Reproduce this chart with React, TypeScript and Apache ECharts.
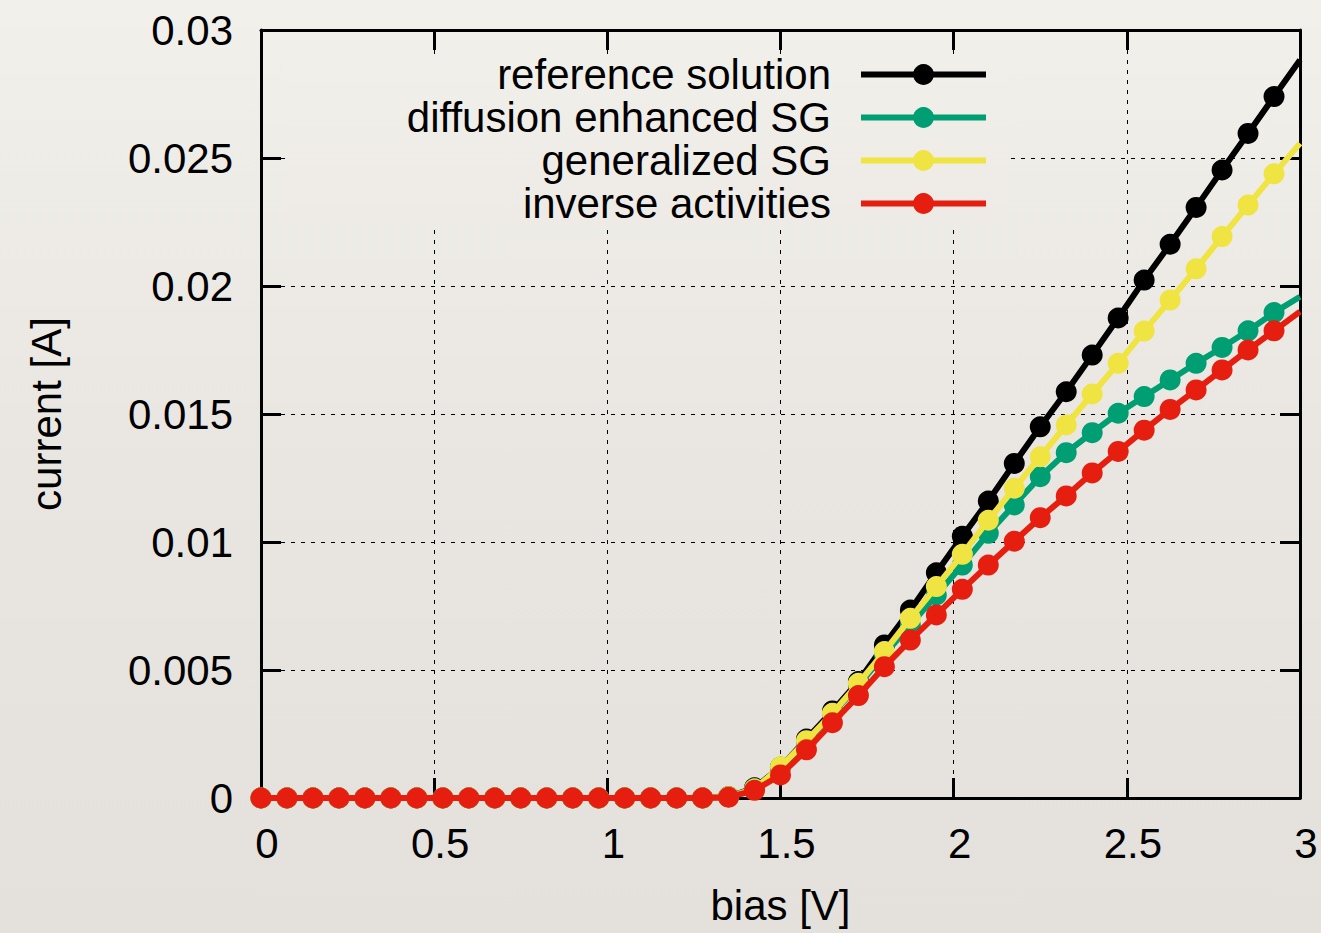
import React, { useEffect, useRef } from "react";
import * as echarts from "echarts";

const biasValues = [
  0, 0.075, 0.15, 0.225, 0.3, 0.375, 0.45, 0.525, 0.6, 0.675, 0.75, 0.825, 0.9, 0.975,
  1.05, 1.125, 1.2, 1.275, 1.35, 1.425, 1.5, 1.575, 1.65, 1.725, 1.8, 1.875, 1.95, 2.025,
  2.1, 2.175, 2.25, 2.325, 2.4, 2.475, 2.55, 2.625, 2.7, 2.775, 2.85, 2.925, 3.0,
];

const referenceSolution = [
  0, 0, 0, 0, 0, 0, 0, 0, 0, 0, 0, 0, 0, 0, 0, 0, 0, 0,
  0.00005, 0.0004, 0.0012, 0.0023, 0.0034, 0.00455, 0.00598, 0.00734, 0.0088, 0.01022,
  0.0116, 0.01307, 0.0145, 0.01587, 0.0173, 0.01875, 0.02023, 0.02163, 0.02307, 0.02453,
  0.02596, 0.0274, 0.02883,
];

const diffusionEnhancedSG = [
  0, 0, 0, 0, 0, 0, 0, 0, 0, 0, 0, 0, 0, 0, 0, 0, 0, 0,
  0.00005, 0.00037, 0.0012, 0.0022, 0.0033, 0.0044, 0.0056, 0.00676, 0.00793, 0.0091,
  0.01034, 0.01145, 0.01255, 0.01349, 0.01427, 0.01503, 0.01568, 0.01633, 0.01698, 0.0176,
  0.01825, 0.01896, 0.01958,
];

const generalizedSG = [
  0, 0, 0, 0, 0, 0, 0, 0, 0, 0, 0, 0, 0, 0, 0, 0, 0, 0,
  0.00005, 0.00035, 0.00122, 0.00224, 0.00331, 0.00448, 0.00572, 0.00702, 0.00826, 0.00952,
  0.01085, 0.0121, 0.01333, 0.01457, 0.01578, 0.01698, 0.01824, 0.01945, 0.02067, 0.02193,
  0.02316, 0.02438, 0.02557,
];

const inverseActivities = [
  0, 0, 0, 0, 0, 0, 0, 0, 0, 0, 0, 0, 0, 0, 0, 0, 0, 0,
  0.00003, 0.0003, 0.0009, 0.00188, 0.00294, 0.004, 0.00513, 0.00617, 0.00715, 0.00815,
  0.0091, 0.01003, 0.01095, 0.0118, 0.0127, 0.01354, 0.01437, 0.01518, 0.01594, 0.01672,
  0.0175, 0.01825, 0.019,
];

const seriesNames = [
  "reference solution",
  "diffusion enhanced SG",
  "generalized SG",
  "inverse activities",
];
const seriesValues = [referenceSolution, diffusionEnhancedSG, generalizedSG, inverseActivities];
const seriesColors = ["#000000", "#009e73", "#f0e442", "#e51e10"];

const FONT = "'Liberation Sans', Arial, Helvetica, sans-serif";

export default function App() {
  const ref = useRef<HTMLDivElement>(null);

  useEffect(() => {
    if (!ref.current) return;
    const chart = echarts.init(ref.current, null, { renderer: "svg" });

    const series = seriesValues.map((vals, s) => ({
      name: seriesNames[s],
      type: "line",
      data: biasValues.map((x, i) =>
        i === biasValues.length - 1
          ? { value: [x, vals[i]], symbol: "none" }
          : [x, vals[i]]
      ),
      xAxisIndex: 0,
      yAxisIndex: 0,
      symbol: "circle",
      symbolSize: 21,
      showAllSymbol: true,
      clip: true,
      z: 2 + s,
      lineStyle: { color: seriesColors[s], width: 6 },
      itemStyle: { color: seriesColors[s] },
      emphasis: { disabled: true },
    }));

    const tickStyle = { show: true, inside: true, length: 20, lineStyle: { color: "#000", width: 3 } };
    const axisLineStyle = { show: true, onZero: false, lineStyle: { color: "#000", width: 3 } };
    const labelStyle = { color: "#000", fontSize: 42, fontFamily: FONT };

    chart.setOption({
      animation: false,
      backgroundColor: "transparent",
      grid: { left: 261, top: 30, right: 21, bottom: 135, containLabel: false },
      xAxis: [
        {
          type: "value",
          min: 0,
          max: 3,
          interval: 0.5,
          position: "bottom",
          name: "bias [V]",
          nameLocation: "middle",
          nameGap: 86,
          nameTextStyle: labelStyle,
          axisLine: axisLineStyle,
          axisTick: tickStyle,
          axisLabel: { ...labelStyle, margin: 24, padding: [0, 0, 0, 12] },
          splitLine: { show: true, lineStyle: { color: "#000", width: 1, type: [4, 6] } },
        },
        {
          type: "value",
          min: 0,
          max: 3,
          interval: 0.5,
          position: "top",
          axisLine: axisLineStyle,
          axisTick: tickStyle,
          axisLabel: { show: false },
          splitLine: { show: false },
        },
      ],
      yAxis: [
        {
          type: "value",
          min: 0,
          max: 0.03,
          interval: 0.005,
          position: "left",
          name: "current [A]",
          nameLocation: "middle",
          nameGap: 194,
          nameTextStyle: labelStyle,
          axisLine: axisLineStyle,
          axisTick: tickStyle,
          axisLabel: { ...labelStyle, margin: 28 },
          splitLine: { show: true, lineStyle: { color: "#000", width: 1, type: [4, 6] } },
        },
        {
          type: "value",
          min: 0,
          max: 0.03,
          interval: 0.005,
          position: "right",
          axisLine: axisLineStyle,
          axisTick: tickStyle,
          axisLabel: { show: false },
          splitLine: { show: false },
        },
      ],
      legend: {
        orient: "vertical",
        align: "right",
        right: 332,
        top: 53,
        padding: 0,
        itemWidth: 125,
        itemHeight: 26,
        itemGap: 0,
        selectedMode: false,
        data: seriesNames,
        lineStyle: { width: 6 },
        textStyle: { ...labelStyle, lineHeight: 43, padding: [0, 25, 0, 0] },
      },
      graphic: [
        {
          type: "rect",
          z: 1,
          silent: true,
          shape: { x: 285, y: 55, width: 723, height: 170 },
          style: {
            fill: new echarts.graphic.LinearGradient(0, 0, 0, 1, [
              { offset: 0, color: "rgb(241,239,234)" },
              { offset: 1, color: "rgb(238,235,230)" },
            ]),
          },
        },
      ],
      series,
    });

    return () => chart.dispose();
  }, []);

  return (
    <div
      style={{
        position: "absolute",
        left: 0,
        top: 0,
        width: 1321,
        height: 933,
        background: "linear-gradient(180deg, #f2f0eb 0%, #e9e6e1 50%, #e4e1dc 100%)",
      }}
    >
      <div ref={ref} style={{ width: 1321, height: 933 }} />
    </div>
  );
}
